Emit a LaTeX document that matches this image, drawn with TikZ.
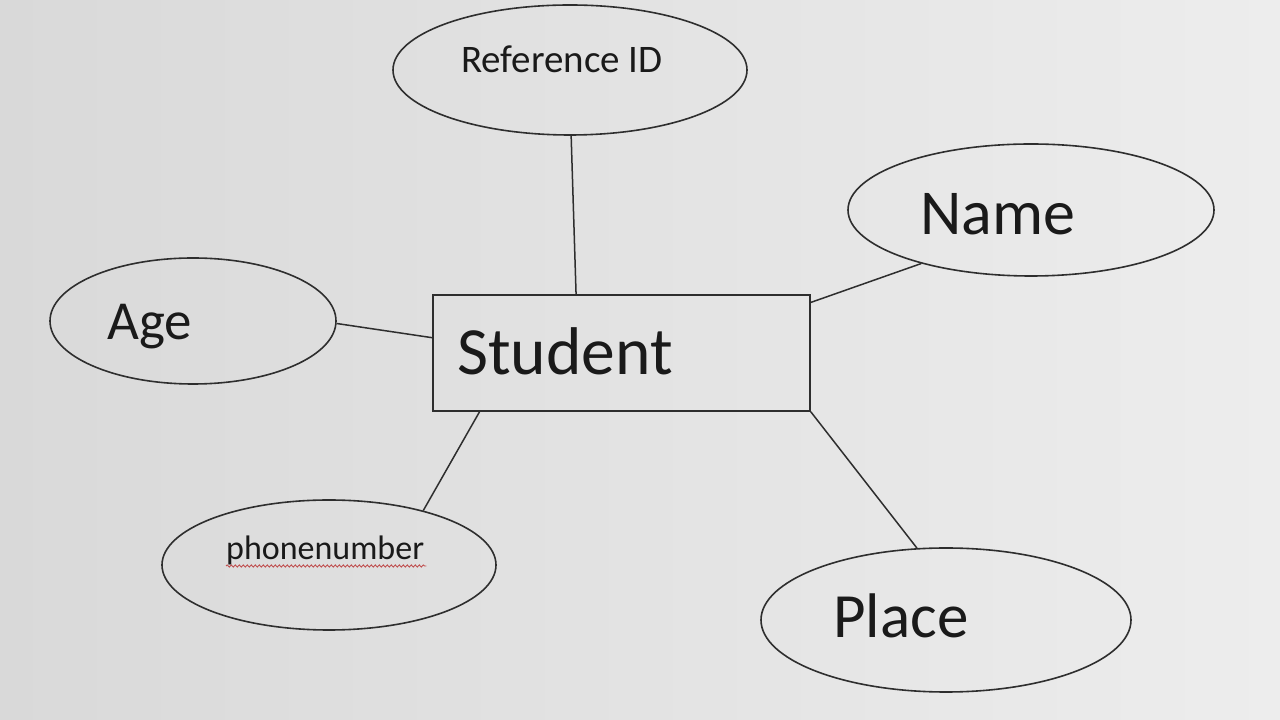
\documentclass[tikz,border=0pt]{standalone}
\usepackage{fontspec}
\setmainfont{Carlito}
\usetikzlibrary{shapes.geometric,calc,decorations.pathmorphing}
\definecolor{bgL}{HTML}{D9D9D9}
\definecolor{bgR}{HTML}{EDEDED}
\definecolor{ink}{HTML}{2E2E2E}
\definecolor{txt}{HTML}{1A1A1A}
\definecolor{squig}{HTML}{C05050}
\tikzset{
  attr/.style={ellipse, draw=ink, line width=1.6pt, inner sep=0pt},
  entity/.style={rectangle, draw=ink, line width=1.6pt, inner sep=0pt,
                 minimum width=377pt, minimum height=116pt},
  lbl/.style={anchor=base west, inner sep=0pt, text=txt},
  conn/.style={draw=ink, line width=1.5pt}
}
\begin{document}
\begin{tikzpicture}[x=1pt,y=1pt]
\shade[left color=bgL, right color=bgR] (0,0) rectangle (1280,720);
\useasboundingbox (0,0) rectangle (1280,720);

\node[attr, minimum width=354pt, minimum height=130pt] (ref) at (570,650) {};
\node[attr, minimum width=366pt, minimum height=132pt] (name) at (1031,510) {};
\node[attr, minimum width=286pt, minimum height=126pt] (age) at (193,399) {};
\node[attr, minimum width=334pt, minimum height=130pt] (phone) at (329,155) {};
\node[attr, minimum width=370pt, minimum height=144pt] (place) at (946,100) {};
\node[entity] (stu) at (621.5,367) {};

\node[lbl, font=\fontsize{39}{41}\selectfont] (refT) at (461,647) {Reference ID};
\node[lbl, font=\fontsize{64}{66}\selectfont] (nameT) at (920,485) {Name};
\node[lbl, font=\fontsize{67.5}{69}\selectfont] (stuT) at (457,345) {Student};
\node[lbl, font=\fontsize{55}{57}\selectfont] (ageT) at (107,380) {Age};
\node[lbl, font=\fontsize{34}{36}\selectfont] (phoneT) at (226,160) {phonenumber};
\node[lbl, font=\fontsize{63}{65}\selectfont] (placeT) at (833,82) {Place};

\draw[squig, line width=0.9pt, decorate,
      decoration={snake, segment length=4pt, amplitude=1.1pt}]
  ($(phoneT.base west)+(0,-6)$) -- ($(phoneT.base east)+(2,-6)$);

\draw[conn] (ref.-89) -- ($(stu.north west)!0.38!(stu.north east)$);
\draw[conn] (name.206) -- ($(stu.north east)!0.07!(stu.south east)$);
\draw[conn] (age.-1) -- ($(stu.north west)!0.37!(stu.south west)$);
\draw[conn] (phone.30) -- ($(stu.south west)!0.125!(stu.south east)$);
\draw[conn] (place.112) -- (stu.south east);
\end{tikzpicture}
\end{document}
